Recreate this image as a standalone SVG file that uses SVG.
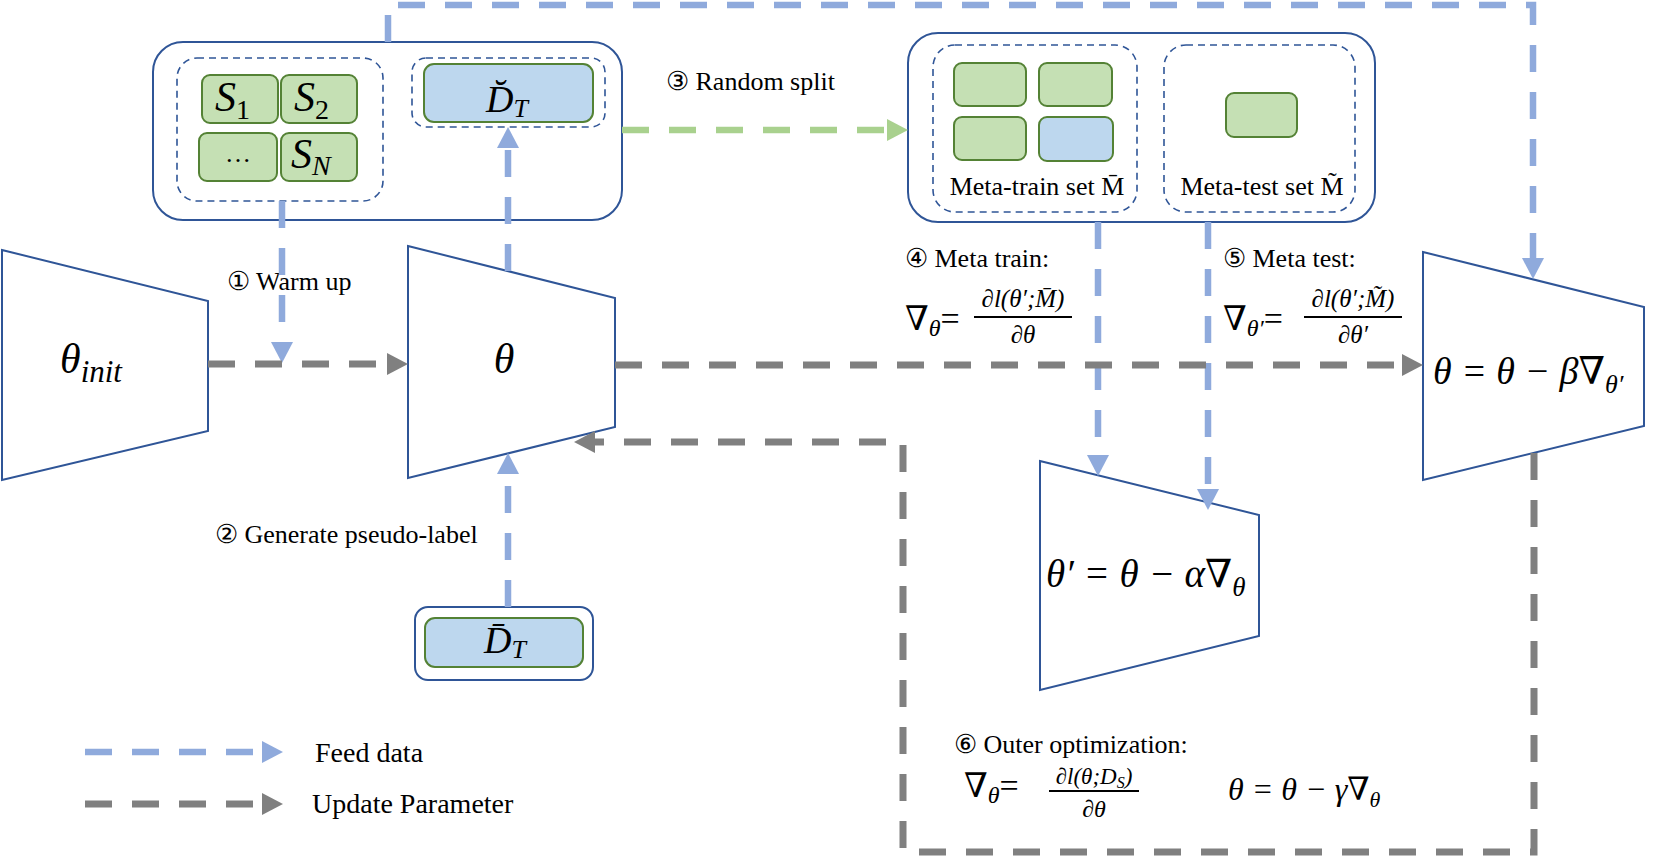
<svg xmlns="http://www.w3.org/2000/svg" width="1664" height="856" viewBox="0 0 1664 856">
<defs>
<style>
.box{fill:#fff;stroke:#2F5597;stroke-width:2}
.dbox{fill:none;stroke:#2F5597;stroke-width:1.6;stroke-dasharray:7 5}
.g{fill:#C5E0B4;stroke:#548235;stroke-width:2}
.b{fill:#BDD7EE;stroke:#548235;stroke-width:2}
.trap{fill:#fff;stroke:#2F5597;stroke-width:2}
.lbl{font-family:"Liberation Serif","Times New Roman",serif;font-size:26px;fill:#000}
.leg{font-family:"Liberation Serif","Times New Roman",serif;font-size:28px;fill:#000}
.math{font-family:"Liberation Serif","DejaVu Serif",serif;font-style:italic;fill:#000}
.up{font-style:normal}
.cb{fill:none;stroke:#8FAADC;stroke-width:6.5;stroke-dasharray:27 20}
.cg{fill:none;stroke:#808080;stroke-width:7;stroke-dasharray:27 20}
.cgr{fill:none;stroke:#A9D18E;stroke-width:6.5;stroke-dasharray:27 20}
.fl{stroke:#000;stroke-width:1.8}
</style>
<marker id="ab" markerUnits="userSpaceOnUse" markerWidth="21" markerHeight="22" viewBox="0 0 21 22" refX="0" refY="11" orient="auto"><path d="M0,0 L21,11 L0,22 z" fill="#8FAADC"/></marker>
<marker id="ag" markerUnits="userSpaceOnUse" markerWidth="21" markerHeight="22" viewBox="0 0 21 22" refX="0" refY="11" orient="auto"><path d="M0,0 L21,11 L0,22 z" fill="#808080"/></marker>
<marker id="agr" markerUnits="userSpaceOnUse" markerWidth="21" markerHeight="22" viewBox="0 0 21 22" refX="0" refY="11" orient="auto"><path d="M0,0 L21,11 L0,22 z" fill="#A9D18E"/></marker>
</defs>
<rect width="1664" height="856" fill="#fff"/>

<g id="source-pool">
<rect class="box" x="153" y="42" width="469" height="178" rx="30"/>
<rect class="dbox" x="177" y="58" width="206" height="143" rx="20"/>
<rect class="g" x="202" y="75" width="76" height="48" rx="8"/>
<rect class="g" x="281" y="75" width="76" height="48" rx="8"/>
<rect class="g" x="199" y="133" width="78" height="48" rx="8"/>
<rect class="g" x="281" y="133" width="76" height="48" rx="8"/>
<text class="math" x="215" y="111" font-size="42">S<tspan class="up" font-size="28" dy="8">1</tspan></text>
<text class="math" x="294" y="111" font-size="42">S<tspan class="up" font-size="28" dy="8">2</tspan></text>
<text class="lbl" x="238" y="162" text-anchor="middle" font-size="24">…</text>
<text class="math" x="291" y="168" font-size="42">S<tspan font-size="28" dy="7">N</tspan></text>
<rect class="dbox" x="412" y="58" width="193" height="69" rx="14"/>
<rect class="b" x="424" y="64" width="169" height="58" rx="10"/>
<text class="math" x="507" y="112" text-anchor="middle" font-size="38">D̆<tspan font-size="26" dy="5">T</tspan></text>
</g>

<g id="meta-split">
<rect class="box" x="908" y="33" width="467" height="189" rx="30"/>
<rect class="dbox" x="933" y="45" width="204" height="167" rx="22"/>
<rect class="g" x="954" y="63" width="72" height="43" rx="8"/>
<rect class="g" x="1039" y="63" width="73" height="43" rx="8"/>
<rect class="g" x="954" y="117" width="72" height="43" rx="8"/>
<rect class="b" x="1039" y="117" width="74" height="44" rx="8"/>
<text class="lbl" x="1037" y="195" text-anchor="middle" font-size="25">Meta-train set M̄</text>
<rect class="dbox" x="1164" y="45" width="191" height="167" rx="22"/>
<rect class="g" x="1226" y="93" width="71" height="44" rx="8"/>
<text class="lbl" x="1262" y="195" text-anchor="middle" font-size="25">Meta-test set M̃</text>
</g>

<g id="theta-init">
<polygon class="trap" points="2,250 208,301 208,431 2,480"/>
<text class="math" x="60" y="373" font-size="42">θ<tspan font-size="31" dy="9">init</tspan></text>
</g>

<g id="theta">
<polygon class="trap" points="408,246 615,298 615,427 408,478"/>
<text class="math" x="504" y="373" text-anchor="middle" font-size="42">θ</text>
</g>

<g id="target-data">
<rect class="box" x="415" y="607" width="178" height="73" rx="13"/>
<rect class="b" x="425" y="618" width="158" height="49" rx="10"/>
<text class="math" x="505" y="653" text-anchor="middle" font-size="38">D̄<tspan font-size="26" dy="5">T</tspan></text>
</g>

<g id="theta-prime">
<polygon class="trap" points="1040,461 1259,515 1259,636 1040,690"/>
<text class="math" x="1046" y="587" font-size="39">θ′ = θ − α∇<tspan font-size="27" dy="9">θ</tspan></text>
</g>

<g id="theta-update">
<polygon class="trap" points="1423,252 1644,307 1644,426 1423,480"/>
<text class="math" x="1433" y="384" font-size="38">θ = θ − β∇<tspan font-size="26" dy="9">θ′</tspan></text>
</g>

<g id="labels">
<text class="lbl" x="227" y="290">① Warm up</text>
<text class="lbl" x="215" y="543">② Generate pseudo-label</text>
<text class="lbl" x="666" y="90">③ Random split</text>
<text class="lbl" x="905" y="267">④ Meta train:</text>
<text class="lbl" x="1223" y="267">⑤ Meta test:</text>
<text class="lbl" x="954" y="753">⑥ Outer optimization:</text>

<text class="math" x="905" y="330" font-size="34"><tspan class="up">∇</tspan><tspan font-size="24" dy="6">θ</tspan><tspan class="up" dy="-6">=</tspan></text>
<text class="math" x="1023" y="307" text-anchor="middle" font-size="25">∂l(θ′;M̄)</text>
<line class="fl" x1="974" y1="317" x2="1072" y2="317"/>
<text class="math" x="1023" y="343" text-anchor="middle" font-size="25">∂θ</text>

<text class="math" x="1223" y="330" font-size="34"><tspan class="up">∇</tspan><tspan font-size="24" dy="6">θ′</tspan><tspan class="up" dy="-6">=</tspan></text>
<text class="math" x="1353" y="307" text-anchor="middle" font-size="25">∂l(θ′;M̃)</text>
<line class="fl" x1="1304" y1="317" x2="1402" y2="317"/>
<text class="math" x="1353" y="343" text-anchor="middle" font-size="25">∂θ′</text>

<text class="math" x="964" y="797" font-size="34"><tspan class="up">∇</tspan><tspan font-size="24" dy="6">θ</tspan><tspan class="up" dy="-6">=</tspan></text>
<text class="math" x="1094" y="784" text-anchor="middle" font-size="23">∂l(θ;D<tspan font-size="16" dy="4">S</tspan><tspan dy="-4">)</tspan></text>
<line class="fl" x1="1049" y1="791" x2="1139" y2="791"/>
<text class="math" x="1094" y="817" text-anchor="middle" font-size="24">∂θ</text>
<text class="math" x="1228" y="800" font-size="32">θ = θ − γ∇<tspan font-size="22" dy="7">θ</tspan></text>

<text class="leg" x="315" y="762">Feed data</text>
<text class="leg" x="312" y="813">Update Parameter</text>
</g>

<g id="connectors">
<path class="cb" d="M282,201 V342" marker-end="url(#ab)"/>
<path class="cb" d="M508,271 V148" marker-end="url(#ab)"/>
<path class="cb" d="M508,607 V474" marker-end="url(#ab)"/>
<path class="cb" d="M388,42 V5 H1533 V258" marker-end="url(#ab)"/>
<path class="cb" d="M1098,222 V455" marker-end="url(#ab)"/>
<path class="cb" d="M1208,222 V489" marker-end="url(#ab)"/>
<path class="cg" d="M208,364 H387" marker-end="url(#ag)"/>
<path class="cg" d="M615,365 H1402" marker-end="url(#ag)"/>
<path class="cg" d="M1534,453 V852 H903 V442 H595" marker-end="url(#ag)"/>
<path class="cgr" d="M622,130 H887" marker-end="url(#agr)"/>
<path class="cb" d="M85,752 H262" marker-end="url(#ab)"/>
<path class="cg" d="M85,804 H262" marker-end="url(#ag)"/>
</g>
</svg>
